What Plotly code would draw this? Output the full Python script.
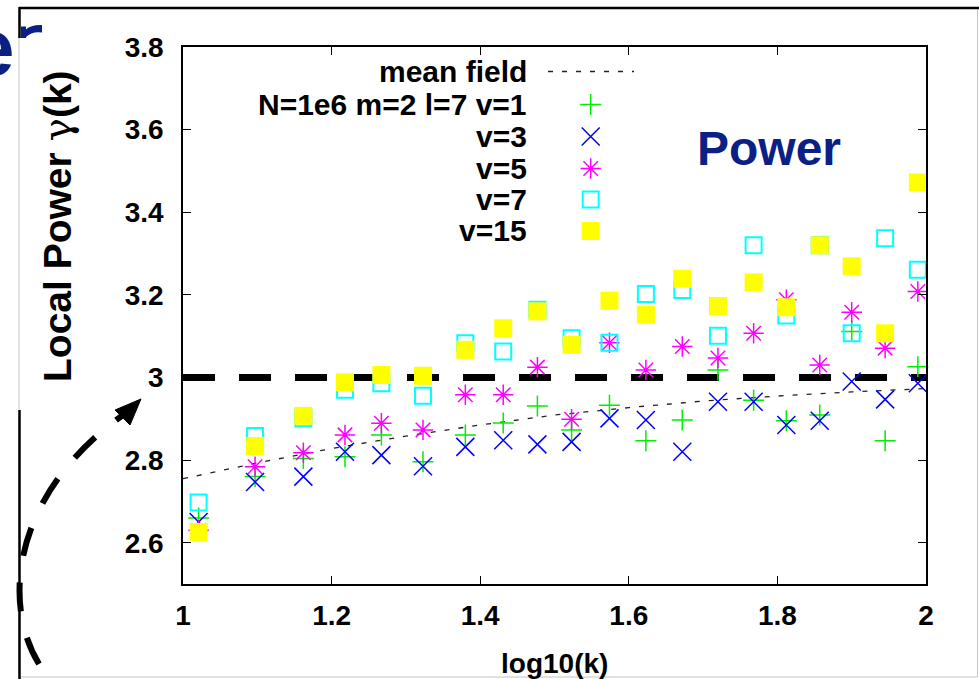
import plotly.graph_objects as go

# ---------------- data ----------------
log10_k = [1.021, 1.097, 1.162, 1.218, 1.267, 1.323, 1.380, 1.431, 1.477, 1.523,
           1.574, 1.623, 1.672, 1.720, 1.768, 1.812, 1.857, 1.900, 1.945, 1.989]
gamma_v1 = [2.660, 2.760, 2.804, 2.808, 2.861, 2.796, 2.861, 2.890, 2.931, 2.873,
            2.933, 2.847, 2.897, 3.018, 2.945, 2.895, 2.909, 3.111, 2.847, 3.026]
gamma_v3 = [2.650, 2.747, 2.760, 2.820, 2.812, 2.785, 2.832, 2.848, 2.838, 2.844,
            2.901, 2.897, 2.820, 2.941, 2.941, 2.885, 2.895, 2.990, 2.947, 2.986]
gamma_v5 = [2.630, 2.784, 2.818, 2.861, 2.889, 2.873, 2.958, 2.958, 3.025, 2.899,
            3.084, 3.018, 3.075, 3.047, 3.107, 3.188, 3.030, 3.158, 3.071, 3.208]
gamma_v7 = [2.697, 2.858, 2.901, 2.970, 2.986, 2.956, 3.083, 3.063, 3.164, 3.095,
            3.084, 3.202, 3.212, 3.101, 3.320, 3.150, 3.320, 3.107, 3.337, 3.261]
gamma_v15 = [2.626, 2.834, 2.907, 2.988, 3.006, 3.004, 3.067, 3.119, 3.160, 3.079,
             3.186, 3.152, 3.239, 3.173, 3.230, 3.170, 3.320, 3.269, 3.107, 3.472]

mf_x = [1.0, 1.1, 1.2, 1.3, 1.4, 1.5, 1.6, 1.7, 1.8, 1.9, 2.0]
mf_y = [2.755, 2.793, 2.828, 2.858, 2.885, 2.909, 2.927, 2.943, 2.955, 2.965, 2.973]

reference_gamma = 3.0
series_labels = ["N=1e6 m=2 l=7 v=1", "v=3", "v=5", "v=7", "v=15"]
meanfield_label = "mean field"
x_title = "log10(k)"
y_title = 'Local Power <span style="font-weight:normal;font-family:DejaVu Serif">γ</span>(k)'
big_label = "Power"

# ---------------- layout helpers ----------------
W, H = 979, 679
PL, PR, PT, PB = 183, 926, 47, 584
FONT = "Liberation Sans, Arial, sans-serif"
NAVY = "#0c1f85"


def xp(px):
    return (px - PL) / (PR - PL)


def yp(py):
    return (PB - py) / (PB - PT)


styles = [
    dict(symbol="cross-thin-open", size=15, color="#00ee00", line=dict(color="#00ee00", width=1.5)),
    dict(symbol="x-thin-open", size=18, color="#0000ff", line=dict(color="#0000ff", width=1.5)),
    dict(symbol="asterisk-open", size=17, color="#ff00ff", line=dict(color="#ff00ff", width=1.5)),
    dict(symbol="square-open", size=16, color="#00ffff", line=dict(color="#00ffff", width=2)),
    dict(symbol="square", size=18, color="#ffff00", line=dict(color="#ffff00", width=0)),
]
series = [gamma_v1, gamma_v3, gamma_v5, gamma_v7, gamma_v15]
mf_line = dict(color="#222222", width=1.3, dash="5px,9px")

fig = go.Figure()
fig.add_trace(go.Scatter(x=mf_x, y=mf_y, mode="lines", line=mf_line,
                         showlegend=False, hoverinfo="skip"))
for ys, st in zip(series, styles):
    fig.add_trace(go.Scatter(x=log10_k, y=ys, mode="markers", marker=st,
                             showlegend=False, cliponaxis=False))

# ---- custom legend (text right-aligned, keys on the right) ----
leg_rows = [71.5, 104.5, 136.5, 168.5, 199.5, 231]
leg_key_x = 590.7
fig.add_trace(go.Scatter(x=[xp(548), xp(634)], y=[yp(leg_rows[0])] * 2, mode="lines",
                         line=mf_line, xaxis="x2", yaxis="y2", showlegend=False,
                         hoverinfo="skip"))
for row, st in zip(leg_rows[1:], styles):
    fig.add_trace(go.Scatter(x=[xp(leg_key_x)], y=[yp(row)], mode="markers", marker=st,
                             xaxis="x2", yaxis="y2", showlegend=False, hoverinfo="skip"))

annotations = []
for row, txt in zip(leg_rows, [meanfield_label] + series_labels):
    annotations.append(dict(x=xp(529), y=yp(row), xref="paper", yref="paper",
                            text=txt, showarrow=False, xanchor="right", yanchor="middle",
                            font=dict(family=FONT, size=30, color="black", weight="bold")))

annotations += [
    dict(x=xp(769), y=yp(148), xref="paper", yref="paper", text=big_label, showarrow=False,
         xanchor="center", yanchor="middle",
         font=dict(family=FONT, size=48, color=NAVY, weight="bold")),
    dict(x=xp(17), y=yp(47), xref="paper", yref="paper", text="e", showarrow=False,
         xanchor="right", yanchor="middle",
         font=dict(family=FONT, size=80, color=NAVY, weight="bold")),
    dict(x=xp(57), y=yp(226), xref="paper", yref="paper", text=y_title, showarrow=False,
         textangle=-90, xanchor="center", yanchor="middle",
         font=dict(family=FONT, size=39, color="black", weight="bold")),
    dict(x=xp(554), y=yp(663), xref="paper", yref="paper", text=x_title, showarrow=False,
         xanchor="center", yanchor="middle",
         font=dict(family=FONT, size=28, color="black", weight="bold")),
]


def pt(px, py):
    return f"{xp(px):.5f},{yp(py):.5f}"


shapes = [
    # reference gamma = 3 line
    dict(type="line", xref="paper", yref="y", x0=0, x1=1, y0=reference_gamma, y1=reference_gamma,
         line=dict(color="black", width=7, dash="32px,24px"), layer="below"),
    # outer picture frame
    dict(type="rect", xref="paper", yref="paper", x0=xp(19), x1=xp(977.5), y0=yp(677), y1=yp(8),
         line=dict(color="#c4c4c4", width=1)),
    dict(type="line", xref="paper", yref="paper", x0=xp(19), x1=xp(979), y0=yp(8), y1=yp(8),
         line=dict(color="black", width=2.5)),
    dict(type="line", xref="paper", yref="paper", x0=xp(19.5), x1=xp(19.5), y0=yp(7), y1=yp(38),
         line=dict(color="black", width=2.5)),
    dict(type="line", xref="paper", yref="paper", x0=xp(19.5), x1=xp(19.5), y0=yp(410), y1=yp(679),
         line=dict(color="black", width=2.5)),
    # top of the clipped "r"
    dict(type="path", xref="paper", yref="paper",
         path=f"M{pt(21,38)} L{pt(21,26.5)} L{pt(26,26.5)} L{pt(26,29.5)} "
              f"Q{pt(31,24.5)} {pt(42,25)} L{pt(42,32.5)} Q{pt(32,31)} {pt(26,37)} L{pt(26,38)} Z",
         fillcolor=NAVY, line=dict(width=0)),
    # dashed curved arrow
    dict(type="path", xref="paper", yref="paper",
         path=f"M{pt(39,664)} C{pt(0,600)} {pt(15,490)} {pt(126,413)}",
         line=dict(color="black", width=6, dash="29px,27px")),
    dict(type="path", xref="paper", yref="paper",
         path=f"M{pt(141,399)} L{pt(115,410)} L{pt(130,425)} Z",
         fillcolor="black", line=dict(color="black", width=1)),
]

axis_common = dict(showline=True, linecolor="black", linewidth=1.5, mirror="ticks",
                   ticks="inside", ticklen=8, tickwidth=1, tickcolor="black",
                   showgrid=False, zeroline=False,
                   tickfont=dict(family=FONT, size=28, color="black", weight="bold"))

fig.update_layout(
    width=W, height=H,
    margin=dict(l=PL, r=W - PR, t=PT, b=H - PB),
    paper_bgcolor="white", plot_bgcolor="white",
    xaxis=dict(range=[1, 2], tick0=1, dtick=0.2, ticklabelstandoff=6, **axis_common),
    yaxis=dict(range=[2.5, 3.8], tick0=2.6, dtick=0.2, ticklabelstandoff=12, **axis_common),
    xaxis2=dict(range=[0, 1], overlaying="x", visible=False),
    yaxis2=dict(range=[0, 1], overlaying="y", visible=False),
    annotations=annotations,
    shapes=shapes,
    showlegend=False,
)

fig.write_html("out.html")
